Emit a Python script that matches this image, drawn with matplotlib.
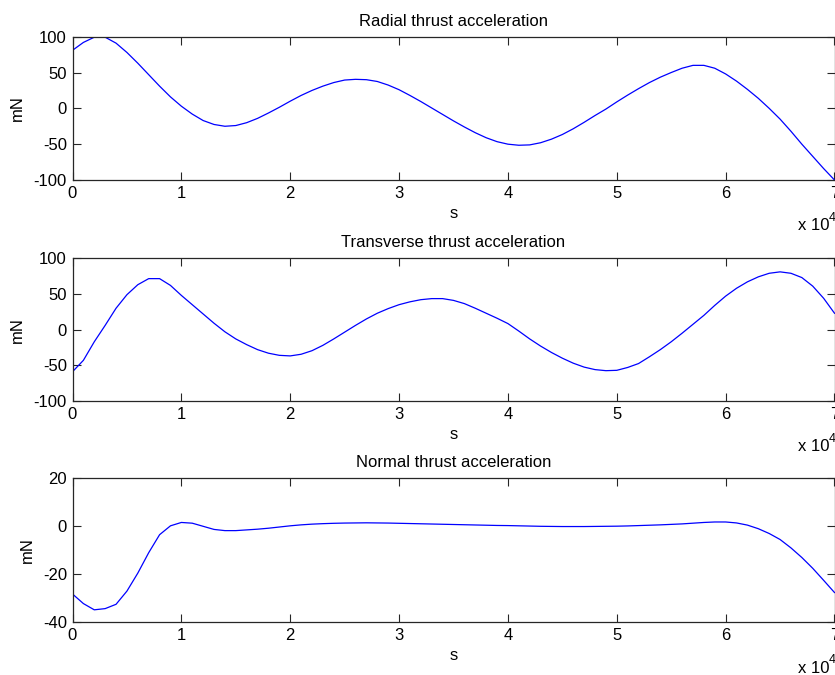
import numpy as np
import matplotlib
matplotlib.use("Agg")
import matplotlib.pyplot as plt

plt.rcParams['font.family'] = ['Liberation Sans', 'DejaVu Sans']

# time samples, in units of 10^4 s
t = np.round(np.arange(0, 71) * 0.1, 1)

radial = [81, 92, 99.3, 99.3, 91, 78, 63, 47, 31, 16,
          3, -8, -17, -22.5, -25, -24, -20, -14, -6.5, 1.5,
          10, 18, 25, 31, 36, 39.5, 40.5, 40, 37.5, 32.5,
          26, 18, 9.5, 0.5, -8.5, -17.5, -26, -34, -41, -46.5,
          -50, -51.5, -51, -48, -43, -36.5, -28.5, -19.5, -10, -1,
          9, 18.5, 27.5, 36, 43.5, 50, 56, 60, 60, 56,
          48, 38, 26.5, 14, 0, -15, -32, -50, -67, -84,
          -100]

transverse = [-59, -43, -17, 6, 30, 49, 63, 71.5, 71.5, 62,
              48, 35, 22, 9, -3, -13, -21, -28, -33, -36,
              -36.8, -34.5, -29.5, -22, -13, -3.5, 6, 15, 23, 29.5,
              35, 39, 42, 43.5, 43.5, 41, 36.5, 30, 23, 16,
              8.5, -2, -13, -23, -32, -40, -47, -52.5, -56, -57.5,
              -57, -53, -47.5, -38, -28, -17, -5, 7.5, 20, 34,
              47, 58, 67, 74, 79, 81, 79, 73, 61, 44,
              23]

normal = [-28.2, -32.2, -34.8, -34.3, -32.5, -27, -19.5, -11, -3.5, 0.2,
          1.6, 1.3, 0.0, -1.3, -1.8, -1.8, -1.5, -1.2, -0.8, -0.3,
          0.2, 0.6, 0.9, 1.1, 1.25, 1.35, 1.4, 1.45, 1.4, 1.35,
          1.25, 1.15, 1.05, 0.95, 0.85, 0.75, 0.65, 0.55, 0.45, 0.35,
          0.3, 0.2, 0.1, 0.0, -0.05, -0.1, -0.1, -0.1, -0.05, 0,
          0.05, 0.15, 0.3, 0.45, 0.6, 0.8, 1.0, 1.3, 1.6, 1.8,
          1.8, 1.4, 0.5, -1.0, -3.0, -5.5, -9, -13, -17.5, -22.5,
          -27.6]

titles = ["Radial thrust acceleration",
          "Transverse thrust acceleration",
          "Normal thrust acceleration"]
series = [radial, transverse, normal]
ylims = [(-100, 100), (-100, 100), (-40, 20)]
yticks = [[-100, -50, 0, 50, 100], [-100, -50, 0, 50, 100], [-40, -20, 0, 20]]
xticks = [0, 1, 2, 3, 4, 5, 6, 7]

W, H = 835, 675
fig = plt.figure(figsize=(W / 100, H / 100), dpi=100)

# axes boxes in pixels: (left, top, right, bottom)
boxes = [(72.5, 36.7, 834.5, 180.0),
         (72.5, 258.3, 834.5, 401.0),
         (72.5, 478.3, 834.5, 622.3)]

fs = 12
for box, title, y, yl, yt in zip(boxes, titles, series, ylims, yticks):
    l, tp, r, b = box
    ax = fig.add_axes([l / W, (H - b) / H, (r - l) / W, (b - tp) / H])
    ax.plot(t, y, color='#0000ff', lw=0.9)
    ax.set_xlim(0, 7)
    ax.set_ylim(*yl)
    ax.set_xticks(xticks)
    ax.set_xticklabels([str(v) for v in xticks])
    ax.set_yticks(yt)
    ax.set_yticklabels([str(v) for v in yt])
    ax.tick_params(direction='in', length=6, width=0.8, top=True, right=True,
                   labelsize=fs, colors='#262626', labelcolor='black', pad=4)
    for sp in ax.spines.values():
        sp.set_linewidth(0.9)
        sp.set_color('#262626')
    ax.set_title(title, fontsize=12, pad=8)
    ax.set_xlabel('s', fontsize=fs, labelpad=4)
    ax.set_ylabel('mN', fontsize=fs, labelpad=6)
    # axis multiplier in the lower right corner
    ax.text(0.952, -0.35, 'x 10', transform=ax.transAxes, fontsize=fs,
            ha='left', va='baseline')
    ax.text(0.993, -0.285, '4', transform=ax.transAxes, fontsize=9,
            ha='left', va='baseline')

fig.savefig('out.png', dpi=100)
